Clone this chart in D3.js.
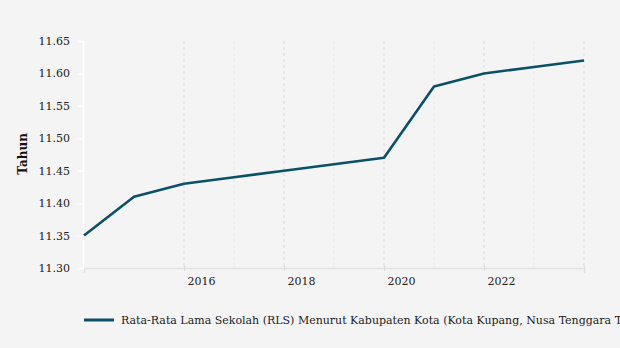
<!DOCTYPE html>
<html><head><meta charset="utf-8">
<script src="https://cdn.jsdelivr.net/npm/d3@7"></script>
<style>body{margin:0;background:#f4f4f4;}svg{display:block;font-family:"DejaVu Serif",serif;}</style>
</head><body>
<svg id="c" width="620" height="348"></svg>
<script>
const years = [2014,2015,2016,2017,2018,2019,2020,2021,2022,2023,2024];
const values = [11.35,11.41,11.43,11.44,11.45,11.46,11.47,11.58,11.60,11.61,11.62];
const yTicks = [11.30,11.35,11.40,11.45,11.50,11.55,11.60,11.65];
const xLabels = [2016,2018,2020,2022];
const seriesName = "Rata-Rata Lama Sekolah (RLS) Menurut Kabupaten Kota (Kota Kupang, Nusa Tenggara Timur)";
const yTitle = "Tahun";

const svg = d3.select("#c");
svg.append("rect").attr("width",620).attr("height",348).attr("fill","#f4f4f4");
const x = d3.scaleLinear().domain([2014,2024]).range([84,584]);
const y = d3.scaleLinear().domain([11.30,11.65]).range([268,41]);

// gridlines
const gridYears = d3.range(2016,2025);
svg.append("g").selectAll("line").data(gridYears).join("line")
  .attr("x1",d=>x(d)).attr("x2",d=>x(d)).attr("y1",41).attr("y2",268)
  .attr("stroke",d=>d%2===0?"#dcdcdc":"#e9e9e9").attr("stroke-width",1.2)
  .attr("stroke-dasharray","3,3");

// bottom axis
const xAxis = d3.axisBottom(x).tickValues(d3.range(2016,2025,2)).tickSize(5).tickFormat(d=>xLabels.includes(d)?d:"");
const gx = svg.append("g").attr("transform","translate(0,268)").call(xAxis);
gx.select(".domain").attr("stroke","#e2e2e2").attr("stroke-width",1.5);
gx.selectAll(".tick line").attr("stroke","#dcdcdc").attr("y1",-2).attr("y2",3);
gx.selectAll(".tick text").attr("text-anchor","start").attr("dx",3).attr("y",9)
  .attr("font-family","DejaVu Serif, serif").attr("font-size",11).attr("fill","#222");

// left axis
const yAxis = d3.axisLeft(y).tickValues(yTicks).tickSize(5).tickFormat(d3.format(".2f"));
const gy = svg.append("g").attr("transform","translate(83,0)").call(yAxis);
gy.select(".domain").attr("stroke","#ffffff").attr("stroke-width",1.5);
gy.selectAll(".tick line").attr("stroke","#ffffff").attr("stroke-width",1.5);
gy.selectAll(".tick text").attr("x",-13).attr("font-family","DejaVu Serif, serif").attr("font-size",11).attr("fill","#222");

svg.append("text").attr("transform","translate(27,154) rotate(-90)").attr("text-anchor","middle")
  .attr("font-weight","bold").attr("font-size",12).attr("fill","#111").text(yTitle);

// line
const line = d3.line().x((d,i)=>x(years[i])).y(d=>y(d));
svg.append("path").datum(values).attr("d",line).attr("fill","none")
  .attr("stroke","#0b5069").attr("stroke-width",2.6).attr("stroke-linejoin","round");

// legend
svg.append("line").attr("x1",84).attr("x2",114).attr("y1",320).attr("y2",320)
  .attr("stroke","#0b5069").attr("stroke-width",3);
svg.append("text").attr("x",121).attr("y",324).attr("font-size",11).attr("fill","#222").text(seriesName);
</script>
</body></html>
